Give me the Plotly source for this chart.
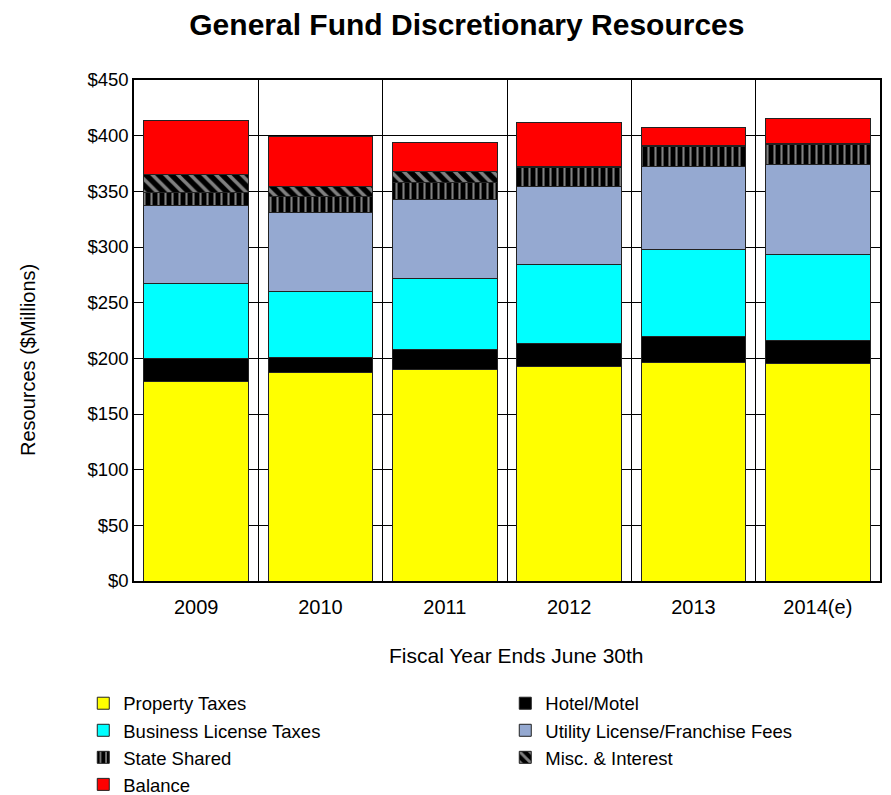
import plotly.graph_objects as go

years = ["2009", "2010", "2011", "2012", "2013", "2014(e)"]
property_taxes = [179, 187, 190, 193, 196, 195]
hotel_motel = [21, 14, 18, 20, 24, 21]
business_license = [67, 59, 64, 71, 78, 77]
utility_fees = [70, 71, 71, 70, 74, 81]
state_shared = [12, 14, 15, 17, 18, 18]
misc_interest = [16, 9, 10, 1, 1, 1]
balance = [49, 45, 26, 40, 16, 22]

series = [
    ("Property Taxes", property_taxes, dict(color="#FFFF00")),
    ("Hotel/Motel", hotel_motel, dict(color="#000000")),
    ("Business License Taxes", business_license, dict(color="#00FFFF")),
    ("Utility License/Franchise Fees", utility_fees, dict(color="#95A9D1")),
    ("State Shared", state_shared, dict(color="#000000",
        pattern=dict(shape="|", fgcolor="#FFFFFF", bgcolor="#000000", size=7, solidity=0.3, fillmode="overlay"))),
    ("Misc. & Interest", misc_interest, dict(color="#000000",
        pattern=dict(shape="\\", fgcolor="#FFFFFF", bgcolor="#000000", size=9, solidity=0.4, fillmode="overlay"))),
    ("Balance", balance, dict(color="#FF0000")),
]

fig = go.Figure()
for name, vals, mk in series:
    m = dict(mk)
    m["line"] = dict(color="#222222", width=1)
    fig.add_trace(go.Bar(x=years, y=vals, name=name, marker=m))

fig.update_layout(
    width=891, height=795,
    barmode="stack",
    bargap=0.16,
    plot_bgcolor="white",
    paper_bgcolor="white",
    font=dict(family="Liberation Sans, Arial, sans-serif", color="#000000", size=18),
    margin=dict(l=134, r=11, t=80, b=214, autoexpand=False),
    title=dict(text="<b>General Fund Discretionary Resources</b>", x=0.524, xanchor="center",
               y=0.9686, yanchor="middle", font=dict(size=30)),
    legend=dict(orientation="h", x=-0.068, xanchor="left", y=-0.207, yanchor="top",
                entrywidth=377, entrywidthmode="pixels", traceorder="normal",
                font=dict(size=18.5), itemwidth=30, tracegroupgap=0),
    annotations=[
        dict(text="Resources ($Millions)", xref="paper", yref="paper",
             x=-106 / 746, y=(581 - 360) / 501, xanchor="center", yanchor="middle",
             textangle=-90, showarrow=False, font=dict(size=20)),
        dict(text="Fiscal Year Ends June 30th", xref="paper", yref="paper",
             x=(516 - 134) / 746, y=(581 - 655) / 501, xanchor="center", yanchor="middle",
             showarrow=False, font=dict(size=21)),
    ],
)
fig.update_xaxes(
    type="category", tickson="boundaries", showgrid=True, gridcolor="#000000", gridwidth=1,
    showline=True, linecolor="#000000", linewidth=1.5, mirror=True,
    ticks="", ticklabelstandoff=7, tickfont=dict(size=20),
)
fig.update_yaxes(
    range=[0, 450], dtick=50, tickprefix="$", showgrid=True, gridcolor="#000000", gridwidth=1,
    showline=True, linecolor="#000000", linewidth=1.5, mirror=True,
    ticks="", tickfont=dict(size=18.5), zeroline=False,
)

fig.write_html("out.html")
